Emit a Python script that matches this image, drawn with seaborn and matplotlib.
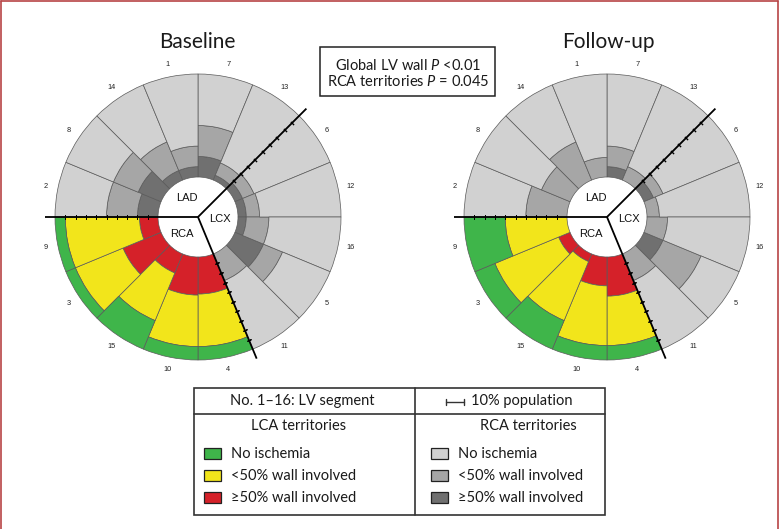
import numpy as np
import matplotlib
matplotlib.use("Agg")
import matplotlib.pyplot as plt
import seaborn as sns
from matplotlib.patches import Rectangle

# LV segments, listed clockwise from 12 o'clock
segments = ["7", "13", "6", "12", "16", "5", "11", "4",
            "10", "15", "3", "9", "2", "8", "14", "1"]
territory = ["LAD", "LAD", "LCX", "LCX", "LCX", "LCX", "LCX", "RCA",
             "RCA", "RCA", "RCA", "RCA", "LAD", "LAD", "LAD", "LAD"]

# % of population per segment: >=50% wall, <50% wall, no ischemia
baseline_severe = [20, 5, 8, 8, 8, 30, 0, 36, 37, 20, 40, 18, 20, 24, 10, 10]
baseline_mild = [30, 13, 12, 13, 22, 20, 28, 51, 50, 50, 50, 72, 30, 26, 30, 20]
baseline_none = [50, 82, 80, 79, 70, 50, 72, 13, 13, 30, 10, 10, 50, 50, 60, 70]

followup_severe = [10, 0, 10, 0, 0, 20, 0, 38, 28, 8, 12, 0, 0, 0, 0, 0]
followup_mild = [20, 14, 10, 12, 20, 40, 28, 48, 58, 62, 67, 60, 40, 30, 40, 19]
followup_none = [70, 86, 80, 88, 80, 40, 72, 14, 14, 30, 21, 40, 60, 70, 60, 81]

# territory boundaries (degrees clockwise from north) and population scale
boundaries = [45, 157.5, 270]
scale_ticks = [10, 20, 30, 40, 50, 60, 70, 80, 90]

panel_titles = ["Baseline", "Follow-up"]
stats_lines = ["Global LV wall $P$ <0.01", "RCA territories $P$ = 0.045"]
legend_header = ["No. 1\u201316: LV segment", "10% population"]
legend_groups = ["LCA territories", "RCA territories"]
legend_labels = ["No ischemia", "<50% wall involved", "\u226550% wall involved"]

sns.set_theme(style="white")
plt.rcParams["font.family"] = ["Lato", "DejaVu Sans"]
plt.rcParams["mathtext.fontset"] = "custom"
plt.rcParams["mathtext.rm"] = "Lato"
plt.rcParams["mathtext.it"] = "Lato:italic"

color_palette = sns.color_palette(["#3fb54a", "#f2e51b", "#d52129"])
gray_palette = sns.color_palette(["#d1d1d1", "#a6a6a6", "#707070"])
EDGE = "#5a5a5a"
SANS = ["Liberation Sans", "DejaVu Sans"]

W, H = 779, 529
R_OUT, R_IN = 143, 40
fig = plt.figure(figsize=(W / 100, H / 100), dpi=100)


def bull_eye(cx, cy, severe, mild, none):
    ax = fig.add_axes([(cx - R_OUT) / W, 1 - (cy + R_OUT) / H,
                       2 * R_OUT / W, 2 * R_OUT / H], projection="polar")
    ax.set_theta_zero_location("N")
    ax.set_theta_direction(-1)
    ax.set_ylim(0, 100)
    ax.set_rorigin(-100 * R_IN / (R_OUT - R_IN))
    ax.set_axis_off()

    n = len(segments)
    theta = np.deg2rad(11.25 + 22.5 * np.arange(n))
    width = 2 * np.pi / n
    rca = [t == "RCA" for t in territory]
    layers = [(severe, 2), (mild, 1), (none, 0)]
    bottom = np.zeros(n)
    for values, k in layers:
        values = np.asarray(values, dtype=float)
        cols = [color_palette[k] if r else gray_palette[k] for r in rca]
        keep = values > 0
        ax.bar(theta[keep], values[keep], width=width, bottom=bottom[keep],
               color=np.array(cols)[keep], edgecolor=EDGE, linewidth=0.5,
               align="center", clip_on=False)
        bottom = bottom + values

    r0 = ax.get_rorigin()
    for c in boundaries:
        t = np.deg2rad(c)
        ax.plot([t, t], [r0, 110], color="black", lw=1.3, clip_on=False,
                solid_capstyle="butt", zorder=5)
        ax.plot([t] * len(scale_ticks), scale_ticks, ls="none",
                marker=(2, 2, 90 - c), ms=3.2, mew=0.7, color="black",
                clip_on=False, zorder=5)

    for t, s in zip(theta, segments):
        ax.text(t, 112, s, ha="center", va="center", fontsize=5.3,
                family=SANS, color="#222222")

    for name, (dx, dy) in {"LAD": (-10.7, -19.4), "RCA": (-16.3, 16.6),
                           "LCX": (22.0, 1.6)}.items():
        ax.text(0.5 + dx / (2 * R_OUT), 0.5 - dy / (2 * R_OUT), name,
                transform=ax.transAxes, ha="center", va="center",
                fontsize=8, family=SANS, color="#111111", zorder=6)
    return ax


bull_eye(198, 217, baseline_severe, baseline_mild, baseline_none)
bull_eye(607, 217, followup_severe, followup_mild, followup_none)

# overlay in pixel coordinates for titles, statistics box and legend table
ov = fig.add_axes([0, 0, 1, 1])
ov.set_xlim(0, W)
ov.set_ylim(H, 0)
ov.axis("off")

for x, title in zip([197, 608], panel_titles):
    ov.text(x, 48, title, ha="center", va="baseline", fontsize=15,
            color="#1a1a1a")

ov.add_patch(Rectangle((320, 47), 175, 49, fill=False, ec="#222222", lw=1.1))
for y, line in zip([65, 82], stats_lines):
    ov.text(408.5, y, line, ha="center", va="center", fontsize=10.5,
            color="#1a1a1a")

# legend table
ov.add_patch(Rectangle((194, 388), 411, 127, fill=False, ec="#333333", lw=1.2))
ov.plot([415.5, 415.5], [388, 515], color="#333333", lw=1.2)
ov.plot([194, 605], [414, 414], color="#333333", lw=1.2)
ov.text(302, 401, legend_header[0], ha="center", va="center", fontsize=10.5,
        color="#1a1a1a")
ov.plot([446, 464], [401.5, 401.5], color="#333333", lw=1)
ov.plot([446, 446], [398.5, 404.5], color="#333333", lw=1)
ov.plot([464, 464], [398.5, 404.5], color="#333333", lw=1)
ov.text(471.5, 401, legend_header[1], ha="left", va="center", fontsize=10.5,
        color="#1a1a1a")
ov.text(298.5, 426, legend_groups[0], ha="center", va="center", fontsize=10.5,
        color="#1a1a1a")
ov.text(528.5, 426, legend_groups[1], ha="center", va="center", fontsize=10.5,
        color="#1a1a1a")

for j, (y, label) in enumerate(zip([453.5, 475.5, 497.5], legend_labels)):
    for sx, pal in [(204, color_palette), (431, gray_palette)]:
        ov.add_patch(Rectangle((sx, y - 5.5), 17.5, 11, fc=pal[j],
                               ec="#222222", lw=0.9))
        ov.text(sx + 27.5, y, label, ha="left", va="center", fontsize=10.5,
                color="#1a1a1a", family=["Lato", "DejaVu Sans"])

# thin frame round the figure
ov.plot([1, 1], [H, 1], color="#b84446", lw=1.2, clip_on=False)
ov.plot([1, W - 1], [1, 1], color="#b84446", lw=1.2, clip_on=False)
ov.plot([W - 1, W - 1], [1, H], color="#b84446", lw=1.2, clip_on=False)

fig.savefig("out.png", dpi=100, facecolor="white")
